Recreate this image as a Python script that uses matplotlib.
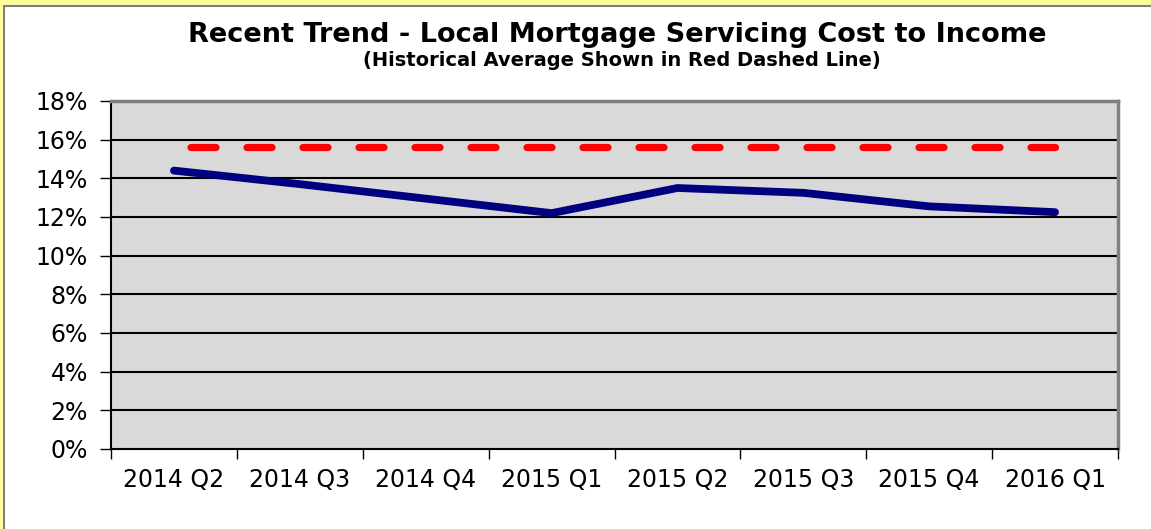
import matplotlib
matplotlib.use('Agg')
import matplotlib.pyplot as plt
from matplotlib.patches import Rectangle
from matplotlib.ticker import FixedLocator, FuncFormatter

plt.rcParams['font.family'] = ['DejaVu Sans']
plt.rcParams['lines.scale_dashes'] = False

quarters = ['2014 Q2', '2014 Q3', '2014 Q4', '2015 Q1',
            '2015 Q2', '2015 Q3', '2015 Q4', '2016 Q1']
cost_to_income = [14.4, 13.7, 12.95, 12.2, 13.5, 13.25, 12.55, 12.25]
historical_avg = [15.6] * len(quarters)
y_ticks = [0, 2, 4, 6, 8, 10, 12, 14, 16, 18]

W, H = 1151, 529
fig = plt.figure(figsize=(W / 100, H / 100), dpi=100)
fig.patch.set_facecolor('#FFFF99')

# white chart panel with thin grey frame, offset from the yellow sheet
fig.patches.append(Rectangle((4 / W, -0.05), 1.0, (H - 6) / H + 0.05,
                             transform=fig.transFigure, facecolor='white',
                             edgecolor='#808080', linewidth=1.5, zorder=-1))

ax = fig.add_axes([111 / W, 1 - 449 / H, (1118 - 111) / W, (449 - 101) / H])
ax.set_zorder(2)
ax.set_facecolor('#D9D9D9')

xs = [i + 0.5 for i in range(len(quarters))]

for v in y_ticks[1:-1]:
    ax.axhline(v, color='black', linewidth=1.5, zorder=1)

ax.plot(xs, cost_to_income, color='#000080', linewidth=5.6,
        solid_capstyle='round', solid_joinstyle='round', zorder=3)

px = 0.72  # points per pixel at dpi 100
ax.plot(xs, historical_avg, color='#FF0000', linewidth=5.2,
        dash_capstyle='round', zorder=2,
        linestyle=(39.5 * px, (25 * px, 31 * px)))

ax.set_xlim(0, len(quarters))
ax.set_ylim(0, 18)

ax.xaxis.set_major_locator(FixedLocator(range(len(quarters) + 1)))
ax.xaxis.set_major_formatter(FuncFormatter(lambda v, p: ''))
ax.xaxis.set_minor_locator(FixedLocator(xs))
ax.xaxis.set_minor_formatter(FuncFormatter(lambda v, p: quarters[int(v)]))
ax.tick_params(axis='x', which='major', length=7, width=1, color='black')
ax.tick_params(axis='x', which='minor', length=0, pad=13.5, labelsize=17)

ax.set_yticks(y_ticks)
ax.set_yticklabels([f'{v}%' for v in y_ticks])
ax.tick_params(axis='y', length=8, width=1, color='black', pad=8.5, labelsize=17)

for side in ['top', 'right']:
    ax.spines[side].set_color('#808080')
    ax.spines[side].set_linewidth(2.5)
for side in ['left', 'bottom']:
    ax.spines[side].set_color('black')
    ax.spines[side].set_linewidth(1.5)

fig.text(617 / W, 1 - 35 / H, 'Recent Trend - Local Mortgage Servicing Cost to Income',
         ha='center', va='center', fontsize=19.5, fontweight='bold')
fig.text(622 / W, 1 - 61 / H, '(Historical Average Shown in Red Dashed Line)',
         ha='center', va='center', fontsize=14, fontweight='bold')

fig.savefig('out.png', dpi=100, facecolor=fig.get_facecolor())
